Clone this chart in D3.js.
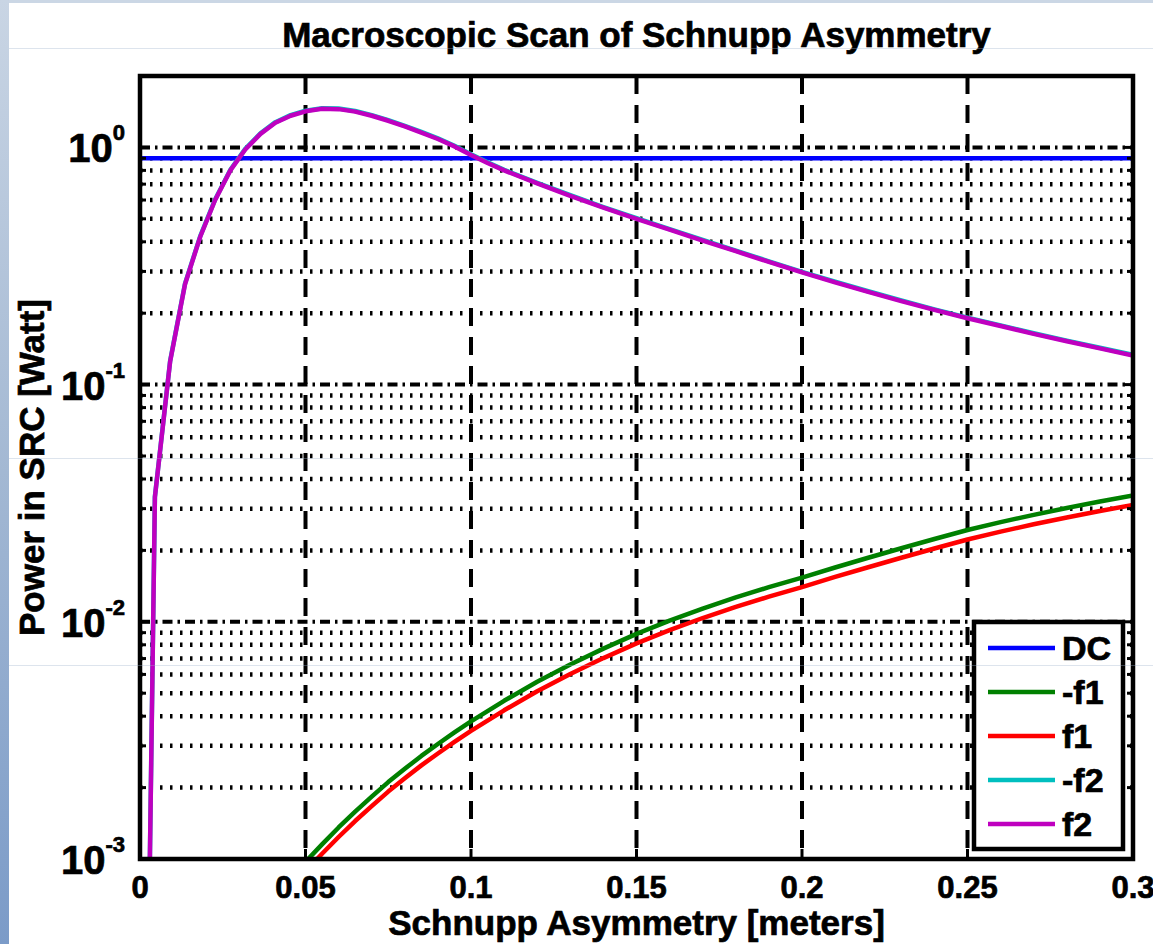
<!DOCTYPE html>
<html>
<head>
<meta charset="utf-8">
<script src="https://cdn.jsdelivr.net/npm/d3@7"></script>
<style>
  html, body { margin: 0; padding: 0; background: #fff; }
  svg { display: block; }
  text { font-family: "Liberation Sans", Arial, Helvetica, sans-serif; font-weight: bold; fill: #000; stroke: #000; stroke-width: 0.7px; }
</style>
</head>
<body>
<svg id="chart" width="1153" height="944"></svg>
<script>
// ---- data -------------------------------------------------------------
// Schnupp asymmetry sample positions (m) for the f2 sidebands
const schnuppF2 = [0, 0.0045, 0.0091, 0.0136, 0.0182, 0.0227, 0.0273, 0.0318, 0.0364, 0.0409,
  0.0455, 0.05, 0.055, 0.06, 0.065, 0.07, 0.075, 0.08, 0.085, 0.09,
  0.095, 0.10, 0.105, 0.11, 0.12, 0.13, 0.14, 0.15, 0.16, 0.17,
  0.18, 0.19, 0.20, 0.21, 0.22, 0.23, 0.24, 0.25, 0.26, 0.27,
  0.28, 0.29, 0.30];
// power in the signal-recycling cavity (W)
const powerF2 = [1e-6, 0.0335, 0.125, 0.265, 0.42, 0.60, 0.80, 0.98, 1.14, 1.27,
  1.36, 1.42, 1.455, 1.45, 1.415, 1.36, 1.295, 1.225, 1.155, 1.085,
  1.01, 0.93, 0.86, 0.80, 0.705, 0.625, 0.557, 0.50, 0.45, 0.405,
  0.365, 0.329, 0.297, 0.270, 0.246, 0.225, 0.2065, 0.1905, 0.1766, 0.1637,
  0.1524, 0.1422, 0.1327];
const powerMinusF2 = [1e-6, 0.0337, 0.1258, 0.2666, 0.4225, 0.6036, 0.8048, 0.9859, 1.1468, 1.2776,
  1.3682, 1.4285, 1.4637, 1.4587, 1.4235, 1.3682, 1.3028, 1.2324, 1.1619, 1.0915,
  1.0161, 0.9356, 0.8652, 0.8048, 0.7092, 0.6288, 0.5603, 0.503, 0.4527, 0.4074,
  0.3672, 0.331, 0.2988, 0.2716, 0.2475, 0.2264, 0.2077, 0.1916, 0.1777, 0.1647,
  0.1533, 0.1431, 0.1335];

// sample positions for the f1 sidebands
const schnuppF1 = [0.05, 0.055, 0.06, 0.065, 0.07, 0.075, 0.08, 0.085, 0.09, 0.095, 0.10,
  0.11, 0.12, 0.13, 0.14, 0.15, 0.16, 0.17, 0.18, 0.19, 0.20,
  0.21, 0.22, 0.23, 0.24, 0.25, 0.26, 0.27, 0.28, 0.29, 0.30];
const powerMinusF1 = [0.000973, 0.001153, 0.001358, 0.001585, 0.001832, 0.00211, 0.002399, 0.00272, 0.003055, 0.003416, 0.003802,
  0.004645, 0.005585, 0.006607, 0.007709, 0.008892, 0.010116, 0.011376, 0.012677, 0.013996, 0.015346,
  0.016943, 0.018621, 0.020417, 0.022336, 0.024378, 0.026303, 0.028249, 0.0302, 0.032137, 0.034119];
const powerF1 = [0.000887, 0.001052, 0.001238, 0.001446, 0.001671, 0.001924, 0.002188, 0.002481, 0.002786, 0.003115, 0.003467,
  0.004236, 0.005094, 0.006026, 0.007031, 0.00811, 0.009226, 0.010375, 0.011561, 0.012764, 0.013996,
  0.015452, 0.016982, 0.01862, 0.02037, 0.022233, 0.023988, 0.025763, 0.027542, 0.029309, 0.031117];

// carrier (DC) power is flat across the scan
const schnuppDC = [0, 0.3];
const powerDC = [0.9, 0.9];

const seriesNames = ["DC", "-f1", "f1", "-f2", "f2"];
const seriesColors = ["#0000ff", "#008000", "#ff0000", "#00bfbf", "#bf00bf"];

const xTickValues = [0, 0.05, 0.1, 0.15, 0.2, 0.25, 0.3];
const xTickLabels = ["0", "0.05", "0.1", "0.15", "0.2", "0.25", "0.3"];
const yTickValues = [1e-3, 1e-2, 1e-1, 1];
const yTickExponents = ["-3", "-2", "-1", "0"];

// ---- layout -----------------------------------------------------------
const W = 1153, H = 944;
const plot = { left: 140, right: 1133, top: 76, bottom: 859 };

const svg = d3.select("#chart");
const defs = svg.append("defs");

// slide backdrop
const gLeft = defs.append("linearGradient").attr("id", "edgeGrad")
  .attr("x1", 0).attr("y1", 0).attr("x2", 0).attr("y2", 1);
gLeft.append("stop").attr("offset", "0%").attr("stop-color", "#c9d5e4");
gLeft.append("stop").attr("offset", "50%").attr("stop-color", "#a3b8d3");
gLeft.append("stop").attr("offset", "100%").attr("stop-color", "#7b9bc8");

svg.append("rect").attr("width", W).attr("height", H).attr("fill", "#fff");
svg.append("rect").attr("x", 0).attr("y", 0).attr("width", W).attr("height", 3).attr("fill", "#cbd7e5");
svg.append("rect").attr("x", 0).attr("y", 0).attr("width", 9).attr("height", H).attr("fill", "url(#edgeGrad)");

defs.append("clipPath").attr("id", "plotClip").append("rect")
  .attr("x", plot.left).attr("y", plot.top)
  .attr("width", plot.right - plot.left).attr("height", plot.bottom - plot.top);

const x = d3.scaleLinear().domain([0, 0.3]).range([plot.left, plot.right]);
const y = d3.scaleLog().domain([0.001, 2]).range([plot.bottom, plot.top]);

// ---- grid -------------------------------------------------------------
const grid = svg.append("g").attr("class", "grid");

// minor decades (2..9 x 10^k)
const minorVals = y.ticks().filter(v => {
  const m = v / Math.pow(10, Math.floor(Math.log10(v) + 1e-9));
  return Math.abs(m - 1) > 1e-6;
}).filter(v => v > 0.001 && v < 2);

grid.selectAll("line.minor").data(minorVals).join("line")
  .attr("class", "minor")
  .attr("x1", plot.left).attr("x2", plot.right)
  .attr("y1", d => y(d)).attr("y2", d => y(d))
  .attr("stroke", "#000").attr("stroke-width", 4.5)
  .attr("stroke-dasharray", "2.5,7.5");

grid.selectAll("line.majorY").data(yTickValues.filter(v => v > 0.001)).join("line")
  .attr("class", "majorY")
  .attr("x1", plot.left).attr("x2", plot.right)
  .attr("y1", d => y(d)).attr("y2", d => y(d))
  .attr("stroke", "#000").attr("stroke-width", 4)
  .attr("stroke-dasharray", "10,5,2.5,5");

grid.selectAll("line.majorX").data(xTickValues.filter(v => v > 0 && v < 0.3)).join("line")
  .attr("class", "majorX")
  .attr("x1", d => x(d)).attr("x2", d => x(d))
  .attr("y1", plot.top).attr("y2", plot.bottom)
  .attr("stroke", "#000").attr("stroke-width", 4)
  .attr("stroke-dasharray", "18,11");

// ---- curves -----------------------------------------------------------
const line = d3.line().x(d => x(d[0])).y(d => y(d[1]));
const zip = (xs, ys) => xs.map((v, i) => [v, ys[i]]);

const curves = [
  zip(schnuppDC, powerDC),
  zip(schnuppF1, powerMinusF1),
  zip(schnuppF1, powerF1),
  zip(schnuppF2, powerMinusF2),
  zip(schnuppF2, powerF2)
];

svg.append("g").attr("clip-path", "url(#plotClip)")
  .selectAll("path").data(curves).join("path")
  .attr("d", line)
  .attr("fill", "none")
  .attr("stroke", (d, i) => seriesColors[i])
  .attr("stroke-width", 4.5)
  .attr("stroke-linejoin", "round");

// ---- axes box and ticks -------------------------------------------------
const ticks = svg.append("g").attr("stroke", "#000").attr("stroke-width", 3);
const majorLen = 10, minorLen = 6;
xTickValues.forEach(v => {
  ticks.append("line").attr("x1", x(v)).attr("x2", x(v)).attr("y1", plot.bottom).attr("y2", plot.bottom - majorLen);
  ticks.append("line").attr("x1", x(v)).attr("x2", x(v)).attr("y1", plot.top).attr("y2", plot.top + majorLen);
});
yTickValues.forEach(v => {
  ticks.append("line").attr("x1", plot.left).attr("x2", plot.left + majorLen).attr("y1", y(v)).attr("y2", y(v));
  ticks.append("line").attr("x1", plot.right).attr("x2", plot.right - majorLen).attr("y1", y(v)).attr("y2", y(v));
});
minorVals.concat([2]).forEach(v => {
  ticks.append("line").attr("x1", plot.left).attr("x2", plot.left + minorLen).attr("y1", y(v)).attr("y2", y(v));
  ticks.append("line").attr("x1", plot.right).attr("x2", plot.right - minorLen).attr("y1", y(v)).attr("y2", y(v));
});

svg.append("rect")
  .attr("x", plot.left).attr("y", plot.top)
  .attr("width", plot.right - plot.left).attr("height", plot.bottom - plot.top)
  .attr("fill", "none").attr("stroke", "#000").attr("stroke-width", 4.5);

// x tick labels
svg.append("g").selectAll("text").data(xTickValues).join("text")
  .attr("x", d => x(d)).attr("y", 898)
  .attr("text-anchor", "middle")
  .attr("font-size", 31)
  .text((d, i) => xTickLabels[i]);

// y tick labels as powers of ten
const yLab = svg.append("g").selectAll("text").data(yTickValues).join("text")
  .attr("x", 125).attr("y", d => y(d) + 15)
  .attr("text-anchor", "end");
yLab.append("tspan").attr("font-size", 40).text("10");
yLab.append("tspan").attr("font-size", 22).attr("dy", -22).text((d, i) => yTickExponents[i]);

// titles
svg.append("text").attr("x", (plot.left + plot.right) / 2).attr("y", 47)
  .attr("text-anchor", "middle").attr("font-size", 35)
  .text("Macroscopic Scan of Schnupp Asymmetry");
svg.append("text").attr("x", (plot.left + plot.right) / 2).attr("y", 935)
  .attr("text-anchor", "middle").attr("font-size", 35)
  .text("Schnupp Asymmetry [meters]");
svg.append("text")
  .attr("transform", `translate(44,${(plot.top + plot.bottom) / 2}) rotate(-90)`)
  .attr("text-anchor", "middle").attr("font-size", 35)
  .text("Power in SRC [Watt]");

// ---- legend -----------------------------------------------------------
const legend = svg.append("g").attr("transform", "translate(974,622)");
legend.append("rect").attr("width", 149).attr("height", 227)
  .attr("fill", "#fff").attr("stroke", "#000").attr("stroke-width", 4.5);
const rows = legend.selectAll("g.row").data(seriesNames).join("g")
  .attr("class", "row")
  .attr("transform", (d, i) => `translate(0,${26 + i * 44})`);
rows.append("line").attr("x1", 14).attr("x2", 81).attr("y1", 0).attr("y2", 0)
  .attr("stroke", (d, i) => seriesColors[i]).attr("stroke-width", 4.5);
rows.append("text").attr("x", 88).attr("y", 0).attr("dy", "0.36em")
  .attr("font-size", 34).text(d => d);

// faint slide guide lines running across the page
svg.append("g").selectAll("line").data([48, 458, 665]).join("line")
  .attr("x1", 9).attr("x2", W).attr("y1", d => d + 0.5).attr("y2", d => d + 0.5)
  .attr("stroke", "#9fb3cc").attr("stroke-opacity", 0.35).attr("stroke-width", 1);
</script>
</body>
</html>
